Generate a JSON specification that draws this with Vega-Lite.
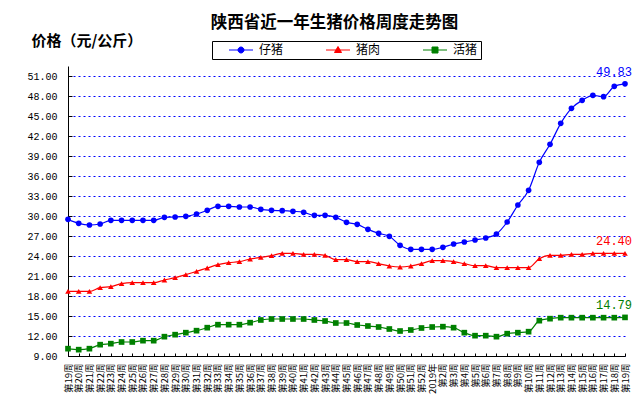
{
  "$schema": "https://vega.github.io/schema/vega-lite/v6.json",
  "autosize": {"type": "none"},
  "padding": {"left": 68, "top": 66, "right": 13, "bottom": 48},
  "width": 557,
  "height": 290,
  "background": "white",
  "title": {
    "text": "陕西省近一年生猪价格周度走势图",
    "font": "Noto Sans CJK SC",
    "fontSize": 16.5,
    "fontWeight": "bold",
    "color": "black",
    "anchor": "middle",
    "dx": -12,
    "offset": 2
  },
  "data": {
    "values": [
      {"key": "2018-19|第19周", "仔猪": 29.5, "猪肉": 18.7, "活猪": 10.1},
      {"key": "2018-20|第20周", "仔猪": 28.9, "猪肉": 18.7, "活猪": 9.95},
      {"key": "2018-21|第21周", "仔猪": 28.65, "猪肉": 18.7, "活猪": 10.1},
      {"key": "2018-22|第22周", "仔猪": 28.8, "猪肉": 19.25, "活猪": 10.7},
      {"key": "2018-23|第23周", "仔猪": 29.35, "猪肉": 19.4, "活猪": 10.85},
      {"key": "2018-24|第24周", "仔猪": 29.35, "猪肉": 19.85, "活猪": 11.1},
      {"key": "2018-25|第25周", "仔猪": 29.35, "猪肉": 20.0, "活猪": 11.1},
      {"key": "2018-26|第26周", "仔猪": 29.35, "猪肉": 20.0, "活猪": 11.3},
      {"key": "2018-27|第27周", "仔猪": 29.35, "猪肉": 20.0, "活猪": 11.3},
      {"key": "2018-28|第28周", "仔猪": 29.8, "猪肉": 20.4, "活猪": 11.9},
      {"key": "2018-29|第29周", "仔猪": 29.85, "猪肉": 20.75, "活猪": 12.2},
      {"key": "2018-30|第30周", "仔猪": 29.95, "猪肉": 21.2, "活猪": 12.5},
      {"key": "2018-31|第31周", "仔猪": 30.3, "猪肉": 21.7, "活猪": 12.8},
      {"key": "2018-32|第32周", "仔猪": 30.85, "猪肉": 22.2, "活猪": 13.25},
      {"key": "2018-33|第33周", "仔猪": 31.45, "猪肉": 22.7, "活猪": 13.7},
      {"key": "2018-34|第34周", "仔猪": 31.45, "猪肉": 23.0, "活猪": 13.7},
      {"key": "2018-35|第35周", "仔猪": 31.35, "猪肉": 23.15, "活猪": 13.7},
      {"key": "2018-36|第36周", "仔猪": 31.35, "猪肉": 23.55, "活猪": 14.0},
      {"key": "2018-37|第37周", "仔猪": 31.0, "猪肉": 23.8, "活猪": 14.4},
      {"key": "2018-38|第38周", "仔猪": 30.85, "猪肉": 24.05, "活猪": 14.55},
      {"key": "2018-39|第39周", "仔猪": 30.8, "猪肉": 24.4, "活猪": 14.55},
      {"key": "2018-40|第40周", "仔猪": 30.7, "猪肉": 24.4, "活猪": 14.55},
      {"key": "2018-41|第41周", "仔猪": 30.55, "猪肉": 24.25, "活猪": 14.55},
      {"key": "2018-42|第42周", "仔猪": 30.1, "猪肉": 24.25, "活猪": 14.4},
      {"key": "2018-43|第43周", "仔猪": 30.1, "猪肉": 24.1, "活猪": 14.25},
      {"key": "2018-44|第44周", "仔猪": 29.8, "猪肉": 23.45, "活猪": 13.95},
      {"key": "2018-45|第45周", "仔猪": 29.05, "猪肉": 23.45, "活猪": 13.95},
      {"key": "2018-46|第46周", "仔猪": 28.75, "猪肉": 23.15, "活猪": 13.65},
      {"key": "2018-47|第47周", "仔猪": 28.0, "猪肉": 23.15, "活猪": 13.5},
      {"key": "2018-48|第48周", "仔猪": 27.4, "猪肉": 22.85, "活猪": 13.35},
      {"key": "2018-49|第49周", "仔猪": 26.95, "猪肉": 22.5, "活猪": 13.05},
      {"key": "2018-50|第50周", "仔猪": 25.6, "猪肉": 22.35, "活猪": 12.75},
      {"key": "2018-51|第51周", "仔猪": 25.0, "猪肉": 22.5, "活猪": 12.9},
      {"key": "2018-52|第52周", "仔猪": 25.0, "猪肉": 22.85, "活猪": 13.2},
      {"key": "2019-01|2019年", "仔猪": 25.0, "猪肉": 23.3, "活猪": 13.35},
      {"key": "2019-02|第2周", "仔猪": 25.3, "猪肉": 23.3, "活猪": 13.4},
      {"key": "2019-03|第3周", "仔猪": 25.8, "猪肉": 23.15, "活猪": 13.25},
      {"key": "2019-04|第4周", "仔猪": 26.1, "猪肉": 22.85, "活猪": 12.5},
      {"key": "2019-05|第5周", "仔猪": 26.4, "猪肉": 22.55, "活猪": 12.05},
      {"key": "2019-06|第6周", "仔猪": 26.7, "猪肉": 22.55, "活猪": 12.05},
      {"key": "2019-07|第7周", "仔猪": 27.3, "猪肉": 22.25, "活猪": 11.9},
      {"key": "2019-08|第8周", "仔猪": 29.1, "猪肉": 22.25, "活猪": 12.35},
      {"key": "2019-09|第9周", "仔猪": 31.65, "猪肉": 22.25, "活猪": 12.5},
      {"key": "2019-10|第10周", "仔猪": 33.85, "猪肉": 22.25, "活猪": 12.65},
      {"key": "2019-11|第11周", "仔猪": 38.05, "猪肉": 23.6, "活猪": 14.3},
      {"key": "2019-12|第12周", "仔猪": 40.75, "猪肉": 24.1, "活猪": 14.6},
      {"key": "2019-13|第13周", "仔猪": 43.9, "猪肉": 24.1, "活猪": 14.75},
      {"key": "2019-14|第14周", "仔猪": 46.15, "猪肉": 24.25, "活猪": 14.75},
      {"key": "2019-15|第15周", "仔猪": 47.35, "猪肉": 24.25, "活猪": 14.75},
      {"key": "2019-16|第16周", "仔猪": 48.1, "猪肉": 24.4, "活猪": 14.75},
      {"key": "2019-17|第17周", "仔猪": 47.9, "猪肉": 24.4, "活猪": 14.75},
      {"key": "2019-18|第18周", "仔猪": 49.45, "猪肉": 24.4, "活猪": 14.75},
      {"key": "2019-19|第19周", "仔猪": 49.83, "猪肉": 24.4, "活猪": 14.79}
    ]
  },
  "transform": [
    {"fold": ["仔猪", "猪肉", "活猪"], "as": ["series", "price"]}
  ],
  "encoding": {
    "x": {
      "field": "key",
      "type": "ordinal",
      "sort": null,
      "scale": {"type": "point", "padding": 0},
      "axis": {
        "title": null,
        "labelExpr": "split(datum.label, '|')[1]",
        "labelAngle": -90,
        "labelFont": "Noto Sans CJK SC",
        "labelFontSize": 9.5,
        "labelColor": "black",
        "labelOverlap": false,
        "labelPadding": 10,
        "tickSize": -3,
        "tickColor": "black",
        "domainColor": "black",
        "grid": false
      }
    },
    "y": {
      "field": "price",
      "type": "quantitative",
      "scale": {"domain": [9, 52.5], "nice": false, "zero": false},
      "axis": {
        "values": [9, 12, 15, 18, 21, 24, 27, 30, 33, 36, 39, 42, 45, 48, 51],
        "format": ".2f",
        "labelFont": "Liberation Mono",
        "labelFontSize": 10,
        "labelColor": "black",
        "labelPadding": 15,
        "tickSize": -4,
        "tickColor": "black",
        "domainColor": "black",
        "grid": true,
        "gridColor": "#0000ff",
        "gridDash": [2, 3],
        "gridWidth": 1,
        "title": "价格（元/公斤）",
        "titleFont": "Noto Sans CJK SC",
        "titleFontSize": 15,
        "titleFontWeight": "bold",
        "titleColor": "black",
        "titleAngle": 0,
        "titleAlign": "left",
        "titleBaseline": "middle",
        "titleX": -37,
        "titleY": -26
      }
    },
    "color": {
      "field": "series",
      "type": "nominal",
      "scale": {"domain": ["仔猪", "猪肉", "活猪"], "range": ["#0000ff", "#ff0000", "#008000"]},
      "legend": {
        "orient": "none",
        "legendX": 144,
        "legendY": -25,
        "direction": "horizontal",
        "title": null,
        "padding": 3,
        "strokeColor": "black",
        "fillColor": "white",
        "symbolSize": 100,
        "symbolOffset": 20,
        "labelOffset": 12,
        "columnPadding": 28,
        "labelFont": "Noto Sans CJK SC",
        "labelFontSize": 12,
        "labelColor": "black",
        "labelExpr": "datum.label == '活猪' ? datum.label + '　' : datum.label",
        "encode": {
          "symbols": {
            "update": {
              "shape": {"signal": "datum.value == '仔猪' ? 'M-2.4,0H2.4M-0.6,0A0.6,0.6,0,1,0,0.6,0A0.6,0.6,0,1,0,-0.6,0Z' : datum.value == '猪肉' ? 'M-2.4,0H2.4M-0.7,0.5L0.7,0.5L0,-0.7Z' : 'M-2.4,0H2.4M-0.6,-0.6H0.6V0.6H-0.6Z'"},
              "fill": {"scale": "color", "field": "value"},
              "stroke": {"scale": "color", "field": "value"},
              "strokeWidth": {"value": 1},
              "opacity": {"value": 1}
            }
          }
        }
      }
    }
  },
  "layer": [
    {
      "mark": {"type": "line", "interpolate": "monotone", "strokeWidth": 1.2}
    },
    {
      "mark": {"type": "point", "filled": true, "size": 32, "opacity": 1},
      "encoding": {
        "shape": {
          "condition": [
            {"test": "datum.series == '猪肉'", "value": "triangle-up"},
            {"test": "datum.series == '活猪'", "value": "square"}
          ],
          "value": "circle"
        }
      }
    },
    {
      "transform": [{"filter": "datum.key == '2019-19|第19周'"}],
      "mark": {"type": "text", "font": "Liberation Mono", "fontSize": 12, "align": "center", "baseline": "middle", "dx": -11, "dy": -12},
      "encoding": {
        "text": {"field": "price", "type": "quantitative", "format": ".2f"}
      }
    }
  ],
  "config": {
    "view": {"stroke": null}
  }
}
